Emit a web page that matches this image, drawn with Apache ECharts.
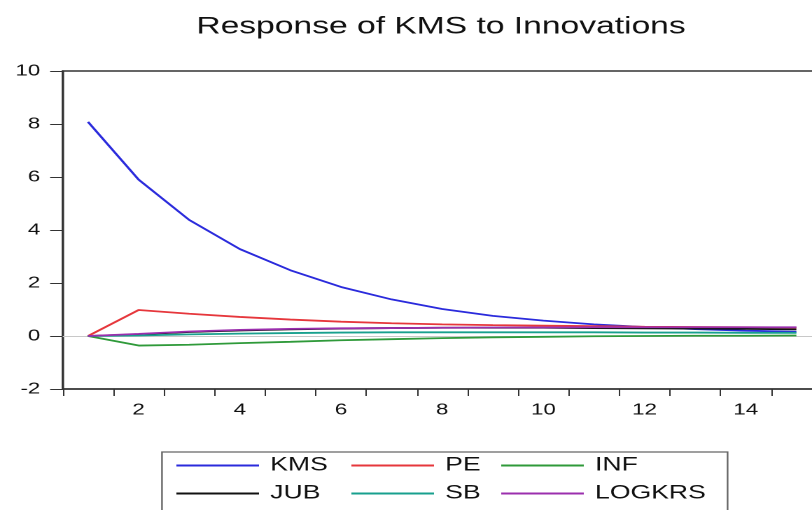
<!DOCTYPE html>
<html>
<head>
<meta charset="utf-8">
<script src="https://cdn.jsdelivr.net/npm/echarts@6/dist/echarts.min.js"></script>
<style>
  html, body { margin: 0; padding: 0; background: #fff; width: 812px; height: 510px; overflow: hidden; }
  /* the graph is laid out narrow and widened horizontally, the way the exported graph is */
  #chart { width: 600px; height: 510px; transform: scaleX(1.4); transform-origin: 0 0; }
</style>
</head>
<body>
<div id="chart"></div>
<script>
// Impulse responses of KMS, periods 1..15
const periods = ['1','2','3','4','5','6','7','8','9','10','11','12','13','14','15'];
const seriesNames = ['KMS', 'PE', 'INF', 'JUB', 'SB', 'LOGKRS'];
const kms    = [8.08, 5.90, 4.38, 3.28, 2.48, 1.85, 1.38, 1.02, 0.76, 0.58, 0.44, 0.34, 0.26, 0.20, 0.16];
const pe     = [0, 0.98, 0.84, 0.72, 0.62, 0.54, 0.48, 0.44, 0.41, 0.39, 0.37, 0.35, 0.34, 0.33, 0.32];
const inf    = [0, -0.36, -0.33, -0.27, -0.22, -0.16, -0.12, -0.08, -0.05, -0.03, -0.01, 0.00, 0.01, 0.01, 0.02];
const jub    = [0, 0.06, 0.15, 0.21, 0.25, 0.28, 0.30, 0.31, 0.31, 0.31, 0.30, 0.29, 0.28, 0.27, 0.25];
const sb     = [0, 0.02, 0.06, 0.09, 0.11, 0.13, 0.14, 0.14, 0.14, 0.14, 0.14, 0.13, 0.13, 0.12, 0.12];
const logkrs = [0, 0.08, 0.17, 0.23, 0.27, 0.29, 0.30, 0.31, 0.32, 0.32, 0.33, 0.33, 0.33, 0.33, 0.33];
const yTicks = [-2, 0, 2, 4, 6, 8, 10];

const values = [kms, pe, inf, jub, sb, logkrs];
const colors = ['#2b2bdc', '#e6373c', '#2f9a3a', '#111111', '#18a08e', '#9b2fae'];
const FONT = 'Liberation Sans, Arial, sans-serif';

const chart = echarts.init(document.getElementById('chart'), null, { renderer: 'canvas', devicePixelRatio: 2 });

const series = seriesNames.map((name, i) => ({
  name,
  type: 'line',
  data: values[i],
  showSymbol: false,
  symbol: 'none',
  smooth: false,
  lineStyle: { color: colors[i], width: 1.8 },
  itemStyle: { color: colors[i] },
  z: 3 + i,
  animation: false,
  markLine: i === 0 ? {
    silent: true,
    symbol: 'none',
    label: { show: false },
    lineStyle: { color: '#c8c8c8', width: 1, type: 'solid' },
    data: [{ yAxis: 0 }],
    z: 1
  } : undefined
}));

// two rows of three legend entries, each placed in its column
const legendCols = [126, 251, 358];
const legendRows = [456, 484];
const legends = seriesNames.map((name, i) => ({
  data: [{ name, icon: 'rect' }],
  left: legendCols[i % 3],
  top: legendRows[Math.floor(i / 3)],
  itemWidth: 59,
  itemHeight: 2,
  padding: 0,
  selectedMode: false,
  itemStyle: { color: colors[i] },
  textStyle: { fontFamily: FONT, fontSize: 19, color: '#111', padding: [0, 0, 0, 3] }
}));

chart.setOption({
  backgroundColor: '#ffffff',
  animation: false,
  title: {
    text: 'Response of KMS to Innovations',
    left: 310,
    top: 10,
    textAlign: 'center',
    textStyle: { fontFamily: FONT, fontSize: 24, fontWeight: 'normal', color: '#111' }
  },
  legend: legends,
  grid: {
    left: 44.8, top: 71, width: 542.1, height: 318,
    outerBoundsMode: 'none',
    show: true, borderColor: '#333', borderWidth: 1.5, containLabel: false
  },
  xAxis: {
    type: 'category',
    data: periods,
    boundaryGap: true,
    axisLine: { show: true, onZero: false, lineStyle: { color: '#333', width: 1.5 } },
    axisTick: { show: true, interval: 0, length: 7, lineStyle: { color: '#333', width: 1 } },
    axisLabel: {
      interval: (idx) => idx % 2 === 1,
      margin: 13,
      fontFamily: FONT, fontSize: 16, color: '#111'
    },
    splitLine: { show: false }
  },
  yAxis: {
    type: 'value',
    min: yTicks[0],
    max: yTicks[yTicks.length - 1],
    interval: 2,
    axisLine: { show: true, lineStyle: { color: '#333', width: 1.5 } },
    axisTick: { show: true, length: 9, lineStyle: { color: '#333', width: 1 } },
    axisLabel: { margin: 16, fontFamily: FONT, fontSize: 16, color: '#111' },
    splitLine: { show: false }
  },
  graphic: [{
    type: 'rect',
    shape: { x: 115.7, y: 452, width: 404, height: 80 },
    style: { fill: 'none', stroke: '#666', lineWidth: 1.2 },
    silent: true,
    z: 0
  }],
  series
});
</script>
</body>
</html>
